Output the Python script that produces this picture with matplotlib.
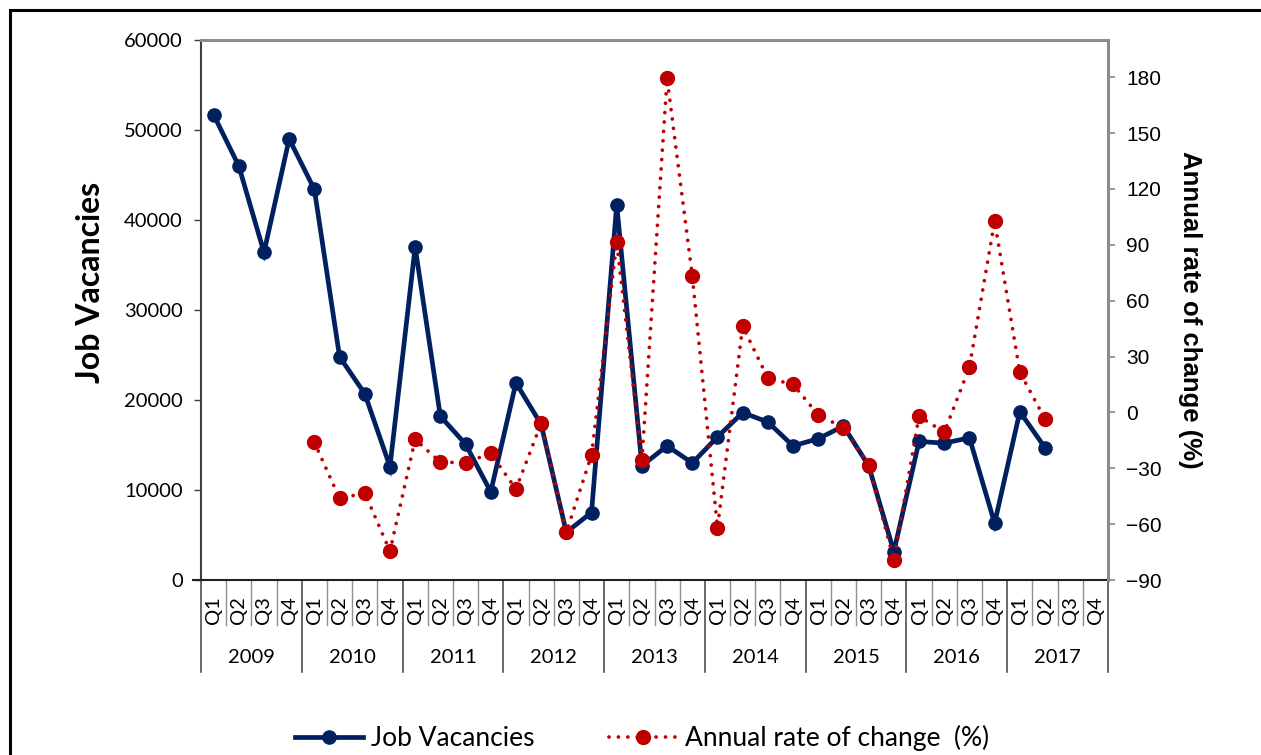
import numpy as np
import matplotlib
matplotlib.use("Agg")
import matplotlib.pyplot as plt
from matplotlib.lines import Line2D
from matplotlib.patches import Rectangle

years = ["2009", "2010", "2011", "2012", "2013", "2014", "2015", "2016", "2017"]
quarters = ["Q1", "Q2", "Q3", "Q4"]

job_vacancies = [51700, 46000, 36400, 49000,
                 43400, 24800, 20700, 12600,
                 37000, 18200, 15100, 9800,
                 21900, 17300, 5300, 7500,
                 41700, 12700, 14900, 13000,
                 15900, 18600, 17550, 14900,
                 15700, 17100, 12700, 3150,
                 15400, 15200, 15800, 6300,
                 18700, 14700, np.nan, np.nan]

annual_rate = [np.nan, np.nan, np.nan, np.nan,
               -16.1, -46.2, -43.3, -74.5,
               -14.5, -26.7, -27.0, -22.0,
               -41.2, -5.9, -64.4, -22.9,
               91.4, -25.6, 179.4, 73.3,
               -61.9, 46.2, 18.4, 15.0,
               -1.3, -8.2, -28.1, -79.3,
               -2.0, -10.7, 24.3, 102.7,
               21.6, -3.6, np.nan, np.nan]

NAVY = "#002060"
RED = "#C00000"
CAL = "Lato"
ARI = "Liberation Sans"

fig = plt.figure(figsize=(12.61, 7.55), dpi=100)
ax = fig.add_axes([201/1261, 1-580/755, 907/1261, 540/755])
ax2 = ax.twinx()

n = len(job_vacancies)
x = np.arange(n)

ax.plot(x, job_vacancies, color=NAVY, lw=3.4, marker="o", ms=9.5,
        solid_joinstyle="miter", zorder=3)
ax2.plot(x, annual_rate, color=RED, lw=2.7, ls=(0, (0.01, 2.5)),
         dash_capstyle="round", marker="o", ms=10, zorder=4)

ax.set_xlim(-0.5, n - 0.5)
ax.set_ylim(0, 60000)
ax.set_yticks(np.arange(0, 60001, 10000))
ax2.set_ylim(-90, 200)
ax2.set_yticks(np.arange(-90, 181, 30))

for lab in ax.get_yticklabels():
    lab.set_fontfamily(CAL)
    lab.set_fontsize(14.5)
for lab in ax2.get_yticklabels():
    lab.set_fontfamily(ARI)
    lab.set_fontsize(15)

ax.tick_params(axis="y", direction="out", length=5, width=1, color="#404040", pad=8)
ax2.tick_params(axis="y", direction="out", length=5, width=1.2, color="#868686", pad=8)
ax.set_xticks([])
ax2.set_xticks([])

for a in (ax, ax2):
    a.spines["top"].set_color("#8c8c8c")
    a.spines["top"].set_linewidth(2)
    a.spines["right"].set_color("#8c8c8c")
    a.spines["right"].set_linewidth(2.2)
    a.spines["left"].set_color("#404040")
    a.spines["left"].set_linewidth(1.5)
    a.spines["bottom"].set_color("#202020")
    a.spines["bottom"].set_linewidth(1.5)
ax2.spines["left"].set_visible(False)
ax2.spines["bottom"].set_visible(False)
ax.spines["right"].set_visible(False)

# category axis (two-level)
trans = ax.get_xaxis_transform()
ax.plot([-0.5 - 0.3, -0.5], [0, 0], transform=trans, color="#202020", lw=1.5, clip_on=False)
for i in range(n + 1):
    xb = i - 0.5
    if i % 4 == 0:
        ax.plot([xb, xb], [0, -0.17], transform=trans, color="#505050", lw=1.2, clip_on=False)
    else:
        ax.plot([xb, xb], [0, -0.083], transform=trans, color="#909090", lw=1.0, clip_on=False)
for i in range(n):
    ax.text(i, -0.056, quarters[i % 4], transform=trans, rotation=90,
            ha="center", va="center", fontsize=14.5, fontfamily=CAL, color="#000000")
for k, yr in enumerate(years):
    ax.text(4 * k + 1.5, -0.143, yr, transform=trans, ha="center", va="center",
            fontsize=14.5, fontfamily=CAL, color="#000000")

# axis titles
fig.text(91/1261, 1-282/755, "Job Vacancies", rotation=90, ha="center", va="center",
         fontsize=23, fontweight="bold", fontfamily=CAL)
fig.text(1190/1261, 1-310/755, "Annual rate of change (%)", rotation=-90,
         ha="center", va="center", fontsize=18.5, fontweight="bold", fontfamily=ARI)

# legend
h1 = Line2D([], [], color=NAVY, lw=3.4, marker="o", ms=9.5)
h2 = Line2D([], [], color=RED, lw=2.7, ls=(0, (0.01, 2.5)), dash_capstyle="round",
            marker="o", ms=10)
fig.legend([h1, h2], ["Job Vacancies", "Annual rate of change  (%)"],
           loc="center", bbox_to_anchor=(642/1261, 1-738/755), ncol=2, frameon=False,
           prop={"family": CAL, "size": 19}, handlelength=2.6, handletextpad=0.3,
           columnspacing=2.8, markerscale=1.0)

# outer border
fig.patches.append(Rectangle((10/1261, -0.05), 1.2, 1-10/755+0.05, transform=fig.transFigure,
                             fill=False, edgecolor="black", lw=2.2, zorder=0))

fig.savefig("out.png", dpi=100)
